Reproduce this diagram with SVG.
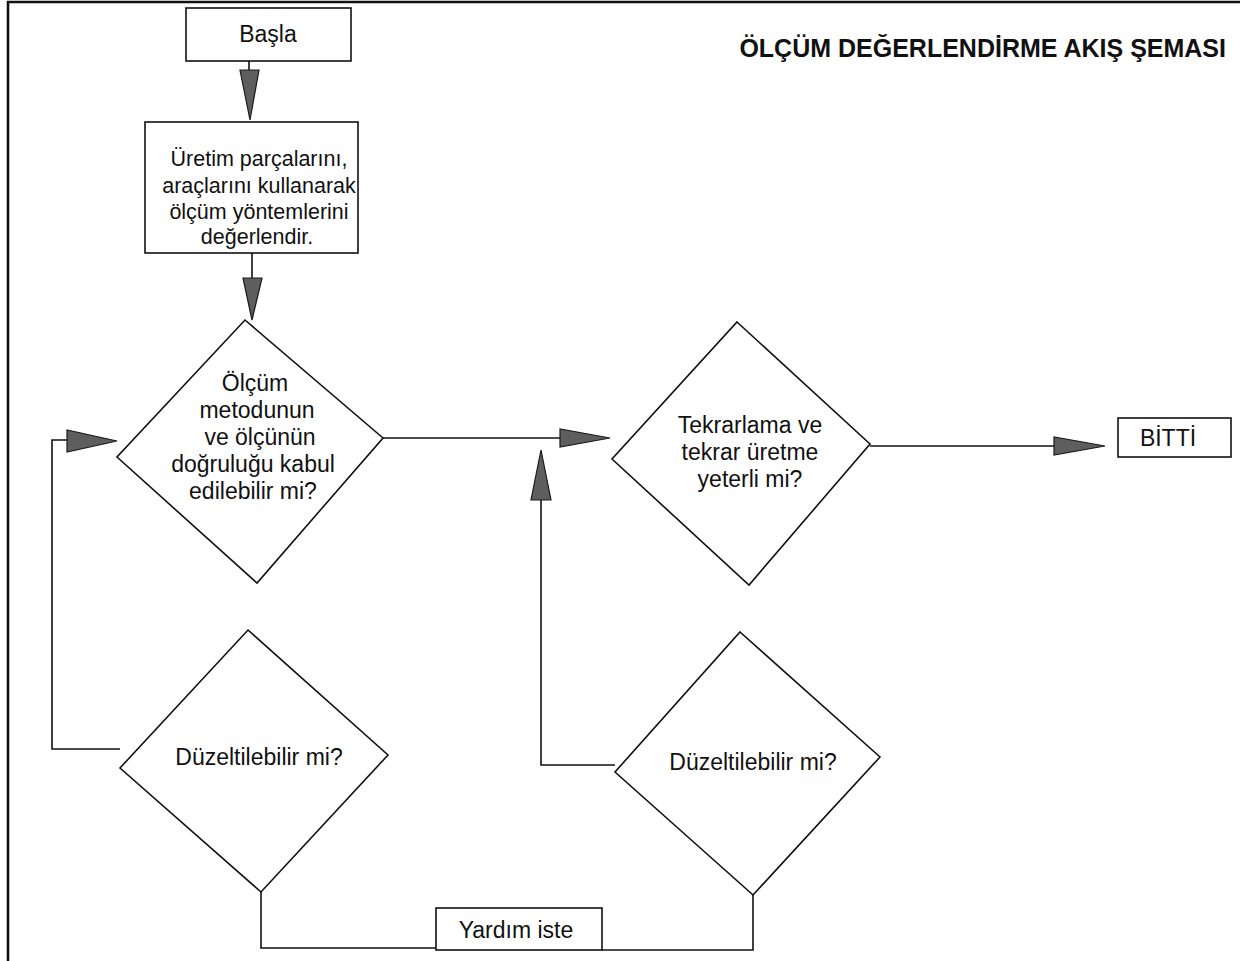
<svg xmlns="http://www.w3.org/2000/svg" width="1245" height="961" viewBox="0 0 1245 961">
<style>
.box{fill:#fff;stroke:#111;stroke-width:1.6}
.dia{fill:#fff;stroke:#111;stroke-width:1.6}
.ln{fill:none;stroke:#111;stroke-width:1.6}
.frame{fill:none;stroke:#111;stroke-width:2.6}
.ah{fill:#5e5e5e;stroke:#1a1a1a;stroke-width:1.2;stroke-linejoin:miter}
.t{font-family:"Liberation Sans",Arial,sans-serif;font-size:23px;fill:#111;text-anchor:middle}
.s{font-size:21.5px}
.title{font-family:"Liberation Sans",Arial,sans-serif;font-size:25px;font-weight:bold;fill:#111;text-anchor:end}
</style>
<rect width="1245" height="961" fill="#fff"/>
<path class="frame" d="M8,961 V2 H1240"/>
<text class="title" x="1226" y="57">ÖLÇÜM DEĞERLENDİRME AKIŞ ŞEMASI</text>
<g id="connectors">
<line class="ln" x1="249" y1="61" x2="249" y2="72"/>
<polygon class="ah" points="240,70 259,70 250,120"/>
<line class="ln" x1="252" y1="253" x2="252" y2="280"/>
<polygon class="ah" points="243,278 262,278 252,320"/>
<line class="ln" x1="383" y1="438" x2="562" y2="438"/>
<polygon class="ah" points="560,429 560,447 610,438"/>
<line class="ln" x1="870" y1="446" x2="1056" y2="446"/>
<polygon class="ah" points="1054,437 1054,455 1105,446"/>
<path class="ln" d="M120,749 H52 V440 H69"/>
<polygon class="ah" points="67,430 67,452 117,441"/>
<path class="ln" d="M261,892 V948 H436"/>
<path class="ln" d="M602,950 H753 V895"/>
<path class="ln" d="M615,765 H541 V498"/>
<polygon class="ah" points="531,500 551,500 541,450"/>
</g>
<g id="start">
<rect class="box" x="186" y="8" width="165" height="53"/>
<text class="t" x="268" y="42">Başla</text>
</g>
<g id="evaluate">
<rect class="box" x="145" y="122" width="213" height="131"/>
<text class="t s" x="259" y="166">Üretim parçalarını,</text>
<text class="t s" x="259" y="193">araçlarını kullanarak</text>
<text class="t s" x="259" y="219">ölçüm yöntemlerini</text>
<text class="t s" x="257" y="244">değerlendir.</text>
</g>
<g id="decision-accuracy">
<polygon class="dia" points="245,320 383,438 257,583 117,457"/>
<text class="t" x="255" y="391">Ölçüm</text>
<text class="t" x="257" y="418">metodunun</text>
<text class="t" x="260" y="445">ve ölçünün</text>
<text class="t" x="253" y="472">doğruluğu kabul</text>
<text class="t" x="253" y="499">edilebilir mi?</text>
</g>
<g id="decision-repeat">
<polygon class="dia" points="737,322 870,444 749,585 612,459"/>
<text class="t" x="750" y="433">Tekrarlama ve</text>
<text class="t" x="750" y="460">tekrar üretme</text>
<text class="t" x="750" y="487">yeterli mi?</text>
</g>
<g id="end">
<rect class="box" x="1118" y="418" width="113" height="39"/>
<text class="t" x="1168" y="446">BİTTİ</text>
</g>
<g id="fix-left">
<polygon class="dia" points="248,630 388,755 261,892 120,768"/>
<text class="t" x="259" y="765">Düzeltilebilir mi?</text>
</g>
<g id="fix-right">
<polygon class="dia" points="740,632 880,757 753,895 615,772"/>
<text class="t" x="753" y="770">Düzeltilebilir mi?</text>
</g>
<g id="help">
<rect class="box" x="436" y="908" width="166" height="42"/>
<text class="t" x="516" y="938">Yardım iste</text>
</g>
</svg>
